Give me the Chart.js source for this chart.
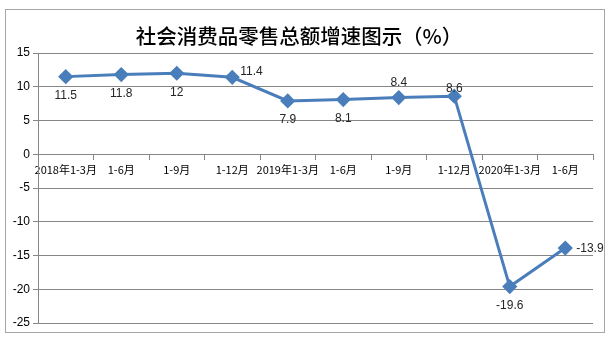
<!DOCTYPE html>
<html>
<head>
<meta charset="utf-8">
<script src="https://cdn.jsdelivr.net/npm/chart.js@4/dist/chart.umd.min.js"></script>
<style>
  html, body { margin: 0; padding: 0; background: #ffffff; }
  #wrap { position: relative; width: 611px; height: 341px; overflow: hidden; }
  #frame { position: absolute; left: 5px; top: 9px; width: 600px; height: 324px; border: 1px solid #a6a6a6; box-sizing: border-box; }
  canvas { position: absolute; left: 0; top: 0; }
</style>
</head>
<body>
<div id="wrap">
  <div id="frame"></div>
  <canvas id="c" width="611" height="341"></canvas>
</div>
<script>
const title = '社会消费品零售总额增速图示（%）';
const categories = ['2018年1-3月', '1-6月', '1-9月', '1-12月', '2019年1-3月', '1-6月', '1-9月', '1-12月', '2020年1-3月', '1-6月'];
const growth = [11.5, 11.8, 12, 11.4, 7.9, 8.1, 8.4, 8.6, -19.6, -13.9];
const yTicks = [15, 10, 5, 0, -5, -10, -15, -20, -25];

const labelPlacement = ['below', 'below', 'below', 'right', 'below', 'below', 'above', 'above', 'below', 'right'];

const dataLabels = {
  id: 'dataLabels',
  afterDatasetsDraw(chart) {
    const ctx = chart.ctx;
    const meta = chart.getDatasetMeta(0);
    ctx.save();
    ctx.font = '12px "Liberation Sans Narrow", "Liberation Sans", sans-serif';
    ctx.fillStyle = '#262626';
    meta.data.forEach((pt, i) => {
      const v = chart.data.datasets[0].data[i];
      const pos = labelPlacement[i];
      let x = pt.x, y = pt.y;
      if (pos === 'below') { ctx.textAlign = 'center'; ctx.textBaseline = 'middle'; y += 19; }
      else if (pos === 'above') { ctx.textAlign = 'center'; ctx.textBaseline = 'middle'; y -= (i === 7 ? 8 : 15); }
      else { ctx.textAlign = 'left'; ctx.textBaseline = 'middle'; x += (v > 0 ? 8 : 11); y += (v > 0 ? -6 : 1); }
      ctx.fillText(String(v), x, y);
    });
    ctx.restore();
  }
};

new Chart(document.getElementById('c'), {
  type: 'line',
  data: {
    labels: categories,
    datasets: [{
      data: growth,
      borderColor: '#4a7ebb',
      backgroundColor: '#4a7ebb',
      borderWidth: 3,
      pointStyle: 'rectRot',
      pointRadius: 5.5,
      pointHoverRadius: 5.5,
      pointBackgroundColor: '#4a7ebb',
      pointBorderColor: '#4a7ebb',
      tension: 0
    }]
  },
  options: {
    responsive: false,
    animation: false,
    devicePixelRatio: 1,
    layout: { padding: { left: 5, right: 18, top: 10, bottom: 18 } },
    plugins: {
      legend: { display: false },
      tooltip: { enabled: false },
      title: {
        display: true,
        text: title,
        color: '#000000',
        font: { family: '"Noto Sans CJK SC", sans-serif', size: 20.5, weight: '500' },
        padding: { top: 14, bottom: 4.4 }
      }
    },
    scales: {
      x: {
        type: 'category',
        position: { y: 0 },
        offset: true,
        grid: {
          display: true,
          offset: true,
          drawOnChartArea: false,
          drawTicks: true,
          tickLength: 5,
          color: '#868686'
        },
        border: { display: true, color: '#868686', width: 1 },
        ticks: {
          autoSkip: false,
          maxRotation: 0,
          minRotation: 0,
          padding: 4,
          color: '#000000',
          font: { family: '"Liberation Sans Narrow", "Noto Sans CJK SC", sans-serif', size: 11 }
        }
      },
      y: {
        min: -25,
        max: 15,
        afterBuildTicks(scale) { scale.ticks = yTicks.map(v => ({ value: v })); },
        afterFit(scale) { scale.width = 33; },
        grid: {
          color: '#868686',
          lineWidth: 1,
          drawTicks: true,
          tickLength: 5
        },
        border: { display: true, color: '#868686', width: 1 },
        ticks: {
          padding: 3,
          color: '#000000',
          font: { family: '"Liberation Sans Narrow", "Liberation Sans", sans-serif', size: 12 }
        }
      }
    }
  },
  plugins: [dataLabels]
});
</script>
</body>
</html>
